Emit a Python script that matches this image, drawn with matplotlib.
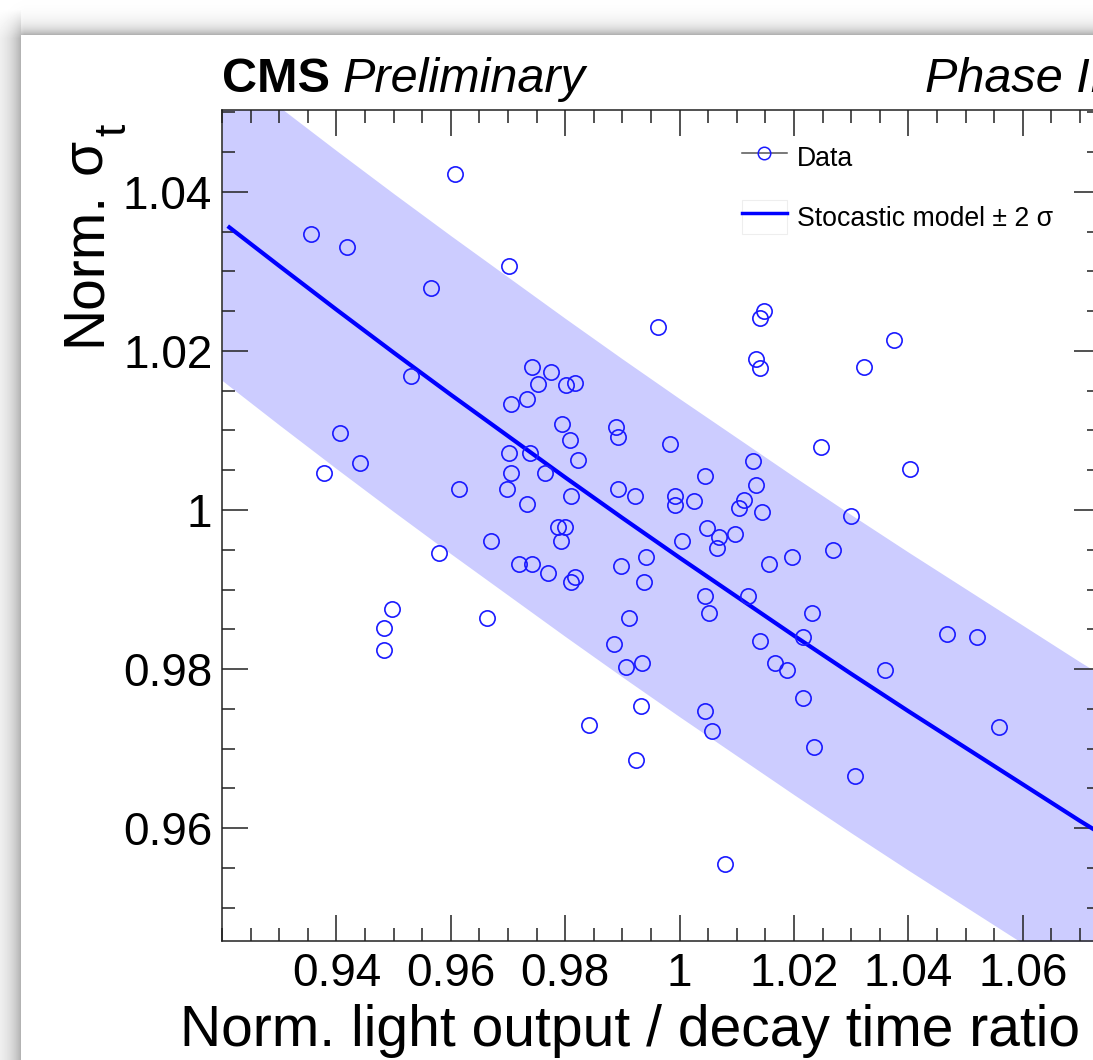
import numpy as np
import matplotlib
matplotlib.use("Agg")
import matplotlib.pyplot as plt
from matplotlib.lines import Line2D
from matplotlib.patches import Rectangle
from matplotlib.ticker import FixedLocator, MultipleLocator

plt.rcParams['font.family'] = ['Liberation Sans', 'DejaVu Sans']

##############################################################################
# values
##############################################################################

light_ratio = [0.9356, 0.9418, 0.9608, 0.9702, 0.9565, 0.9530, 0.9406, 0.9441,
               0.9378, 0.9614, 0.9580, 0.9497, 0.9484, 0.9484, 0.9664, 0.9670,
               0.9742, 0.9776, 0.9752, 0.9801, 0.9818, 0.9733, 0.9705, 0.9795,
               0.9889, 0.9892, 0.9808, 0.9702, 0.9739, 0.9823, 0.9705, 0.9764,
               0.9698, 0.9892, 0.9811, 0.9922, 0.9733, 0.9787, 0.9799, 0.9792,
               0.9720, 0.9742, 0.9770, 0.9817, 0.9811, 0.9898, 0.9941, 0.9938,
               0.9911, 0.9886, 0.9907, 0.9934, 0.9932, 0.9842, 0.9923, 0.9963,
               0.9983, 0.9992, 0.9992, 1.0026, 1.0004, 1.0044, 1.0048, 1.0069,
               1.0066, 1.0097, 1.0113, 1.0104, 1.0128, 1.0134, 1.0144, 1.0045,
               1.0051, 1.0119, 1.0044, 1.0056, 1.0079, 1.0140, 1.0166, 1.0187,
               1.0157, 1.0196, 1.0231, 1.0215, 1.0215, 1.0235, 1.0268, 1.0299,
               1.0247, 1.0147, 1.0140, 1.0134, 1.0141, 1.0322, 1.0374, 1.0402,
               1.0359, 1.0306, 1.0467, 1.0520, 1.0558]
norm_sigma = [1.0347, 1.0331, 1.0422, 1.0307, 1.0279, 1.0169, 1.0097, 1.0059,
              1.0047, 1.0027, 0.9946, 0.9876, 0.9851, 0.9824, 0.9864, 0.9961,
              1.0180, 1.0173, 1.0158, 1.0157, 1.0160, 1.0139, 1.0133, 1.0108,
              1.0104, 1.0092, 1.0088, 1.0072, 1.0072, 1.0063, 1.0047, 1.0047,
              1.0027, 1.0027, 1.0018, 1.0018, 1.0007, 0.9978, 0.9978, 0.9961,
              0.9932, 0.9932, 0.9921, 0.9916, 0.9910, 0.9930, 0.9941, 0.9910,
              0.9864, 0.9831, 0.9803, 0.9808, 0.9754, 0.9729, 0.9686, 1.0230,
              1.0083, 1.0018, 1.0006, 1.0011, 0.9961, 1.0043, 0.9977, 0.9966,
              0.9952, 0.9970, 1.0013, 1.0002, 1.0061, 1.0031, 0.9997, 0.9892,
              0.9871, 0.9892, 0.9747, 0.9722, 0.9555, 0.9835, 0.9808, 0.9799,
              0.9932, 0.9941, 0.9871, 0.9840, 0.9763, 0.9702, 0.9950, 0.9992,
              1.0079, 1.0250, 1.0241, 1.0190, 1.0178, 1.0180, 1.0214, 1.0052,
              0.9799, 0.9666, 0.9844, 0.9840, 0.9727]

# stochastic model curve
model_x = [0.921, 0.93, 0.94, 0.95, 0.96, 0.97, 0.98, 0.99, 1.00,
           1.01, 1.02, 1.03, 1.04, 1.05, 1.06, 1.07, 1.08]
model_y = [1.0357, 1.0307, 1.0252, 1.0198, 1.0145, 1.0093, 1.0041, 0.9990, 0.9940,
           0.9891, 0.9842, 0.9794, 0.9747, 0.9701, 0.9655, 0.9609, 0.9565]

# +- 2 sigma band
band_x = [0.92, 0.93, 0.94, 0.95, 0.96, 0.97, 0.98, 0.99, 1.00,
          1.01, 1.02, 1.03, 1.04, 1.05, 1.06, 1.07, 1.08]
band_lo = [1.0163, 1.0107, 1.0052, 0.9998, 0.9945, 0.9893, 0.9841, 0.9790, 0.9740,
           0.9691, 0.9642, 0.9594, 0.9547, 0.9501, 0.9455, 0.9409, 0.9365]
band_hi = [1.0563, 1.0507, 1.0452, 1.0398, 1.0345, 1.0293, 1.0241, 1.0190, 1.0140,
           1.0091, 1.0042, 0.9994, 0.9947, 0.9901, 0.9855, 0.9809, 0.9765]

x_ticks = [0.94, 0.96, 0.98, 1.00, 1.02, 1.04, 1.06]
x_ticklabels = ['0.94', '0.96', '0.98', '1', '1.02', '1.04', '1.06']
y_ticks = [0.96, 0.98, 1.00, 1.02, 1.04]
y_ticklabels = ['0.96', '0.98', '1', '1.02', '1.04']

##############################################################################
# figure
##############################################################################

W, H = 1093, 1060
fig = plt.figure(figsize=(W / 100, H / 100), dpi=100)

# grey drop shadow of the screenshot frame (top and left)
bg = fig.add_axes([0, 0, 1, 1], zorder=-10)
rows = np.arange(H)[:, None]
cols = np.arange(W)[None, :]
top = np.where(rows < 35, 88 * np.exp(-(35 - rows) / 8.0), 0.0)
top = top * np.clip((cols - 2) / 22.0, 0, 1)
left = np.where(cols < 21, 82 * np.exp(-(21 - cols) / 13.0), 0.0)
left = left * np.clip((rows - 8) / 30.0, 0, 1)
shade = 255 - np.maximum(top, left)
bg.imshow(shade, cmap='gray', vmin=0, vmax=255, aspect='auto',
          interpolation='nearest', extent=(0, W, H, 0))
bg.axis('off')

ax = fig.add_axes([222 / W, (H - 941) / H, 878 / W, 831 / H])
ax.set_xlim(0.92, 1.0735)
ax.set_ylim(0.9458, 1.0503)

ax.fill_between(band_x, band_lo, band_hi, color='#ccccff', lw=0, zorder=1)
ax.plot(model_x, model_y, color='#0000ff', lw=3, solid_capstyle='butt', zorder=2)
ax.plot(light_ratio, norm_sigma, ls='none', marker='o', ms=11, mfc='none',
        mec='#1a1aff', mew=1.2, zorder=3)

ax.xaxis.set_major_locator(FixedLocator(x_ticks))
ax.set_xticklabels(x_ticklabels)
ax.yaxis.set_major_locator(FixedLocator(y_ticks))
ax.set_yticklabels(y_ticklabels)
ax.xaxis.set_minor_locator(MultipleLocator(0.005))
ax.yaxis.set_minor_locator(MultipleLocator(0.005))
ax.tick_params(which='both', direction='in', top=True, right=True,
               width=1.1, color='#222222')
ax.tick_params(which='major', length=19, labelsize=33)
ax.tick_params(which='minor', length=9.5)
ax.tick_params(axis='x', which='major', pad=8)
ax.tick_params(axis='y', which='major', pad=7)
for s in ax.spines.values():
    s.set_linewidth(1.1)
    s.set_color('#222222')

# legend
h_data = Line2D([], [], color='#555555', lw=1.1, marker='o', ms=9,
                mfc='none', mec='#1a1aff', mew=1.1)
h_box = Rectangle((0, 0), 1, 1, facecolor='white', edgecolor='#eeeeee', lw=0.8)
h_model = Line2D([], [], color='#0000ff', lw=2.5)
ax.legend([h_data, (h_box, h_model)], ['Data', 'Stocastic model ± 2 σ'],
          loc='upper left', bbox_to_anchor=(741.7 / W, 1 - 140 / H),
          bbox_transform=fig.transFigure, frameon=False, fontsize=19.2,
          borderpad=0, borderaxespad=0, handlelength=1.7, handleheight=1.57,
          handletextpad=0.36, labelspacing=1.0, numpoints=1)

# axis titles
fig.text(1080 / W, 1 - 1046 / H, 'Norm. light output / decay time ratio',
         fontsize=41, ha='right', va='baseline')
# y title: "Norm." + sigma with subscript t, rotated
fig.text(112 / W, 1 - 346 / H, 'Norm.', fontsize=41, rotation=90,
         ha='right', va='bottom')
fig.text(112 / W, 1 - 174 / H, 'σ', fontsize=41, rotation=90,
         ha='right', va='bottom')
fig.text(134 / W, 1 - 136 / H, 't', fontsize=32, rotation=90,
         ha='right', va='bottom')

fig.text(222 / W, 1 - 92 / H, 'CMS', fontsize=35, fontweight='bold',
         ha='left', va='baseline')
fig.text(343 / W, 1 - 92 / H, 'Preliminary', fontsize=35, style='italic',
         ha='left', va='baseline')
fig.text(925 / W, 1 - 92 / H, 'Phase II', fontsize=35, style='italic',
         ha='left', va='baseline')

fig.savefig('out.png', dpi=100)
